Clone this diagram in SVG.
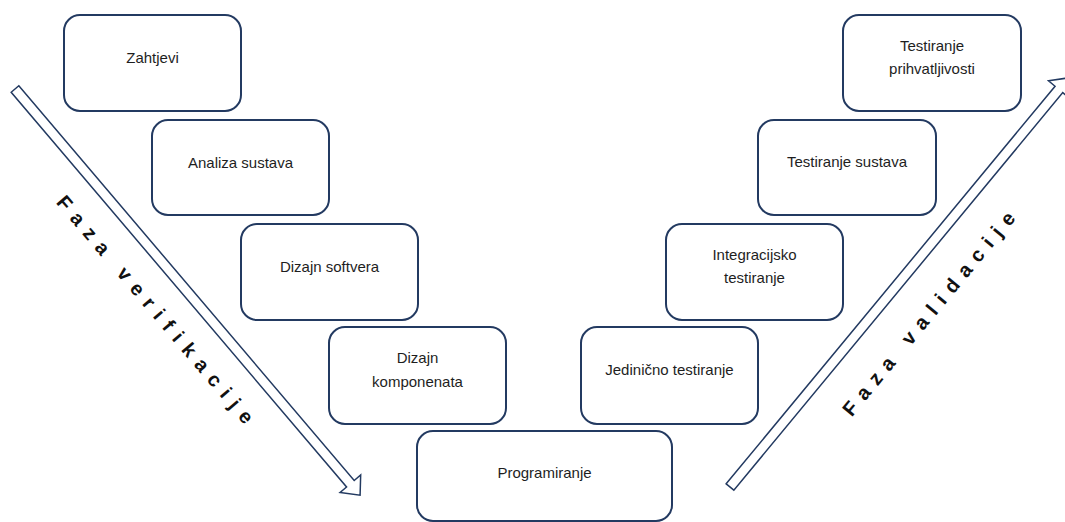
<svg xmlns="http://www.w3.org/2000/svg" width="1065" height="522" viewBox="0 0 1065 522">
<style>
.box{fill:#fff;stroke:#233a61;stroke-width:2}
.lbl{font-family:"Liberation Sans",Arial,sans-serif;font-size:15px;fill:#1e1e1e;text-anchor:middle}
.arr{fill:#fff;stroke:#233a61;stroke-width:1.5;stroke-linejoin:miter}
.phase{font-family:"Liberation Sans",Arial,sans-serif;font-size:20px;font-weight:bold;fill:#111;text-anchor:middle}
</style>
<rect width="1065" height="522" fill="#fff"/>
<g id="connectors">
  <g transform="translate(15,89) rotate(49.65)">
    <polygon class="arr" points="0,-5 518,-5 518,-13.5 533,0 518,13.5 518,5 0,5"/>
  </g>
  <g transform="translate(730,487) rotate(-50.4)">
    <polygon class="arr" points="0,-5 516,-5 516,-13.5 531,0 516,13.5 516,5 0,5"/>
  </g>
</g>
<g id="label-verifikacija">
  <text class="phase" transform="translate(150,314) rotate(49.65)" textLength="292" lengthAdjust="spacing">Faza verifikacije</text>
</g>
<g id="label-validacija">
  <text class="phase" transform="translate(934,318) rotate(-50.4)" textLength="258" lengthAdjust="spacing">Faza validacije</text>
</g>
<g id="n-zahtjevi">
  <rect class="box" x="64" y="15" width="177" height="96" rx="16"/>
  <text class="lbl" x="152.5" y="63">Zahtjevi</text>
</g>
<g id="n-analiza">
  <rect class="box" x="152" y="120" width="177" height="95" rx="16"/>
  <text class="lbl" x="240.5" y="168">Analiza sustava</text>
</g>
<g id="n-dizajn-softvera">
  <rect class="box" x="241" y="224" width="177" height="96" rx="16"/>
  <text class="lbl" x="329.5" y="272">Dizajn softvera</text>
</g>
<g id="n-dizajn-komponenata">
  <rect class="box" x="329" y="327" width="177" height="97" rx="16"/>
  <text class="lbl" x="417.5" y="363">Dizajn</text>
  <text class="lbl" x="417.5" y="387">komponenata</text>
</g>
<g id="n-programiranje">
  <rect class="box" x="417" y="431" width="255" height="90" rx="16"/>
  <text class="lbl" x="544.5" y="478">Programiranje</text>
</g>
<g id="n-jedinicno">
  <rect class="box" x="581" y="327" width="177" height="97" rx="16"/>
  <text class="lbl" x="669.5" y="375">Jedinično testiranje</text>
</g>
<g id="n-integracijsko">
  <rect class="box" x="666" y="224" width="177" height="96" rx="16"/>
  <text class="lbl" x="754.5" y="260">Integracijsko</text>
  <text class="lbl" x="754.5" y="283">testiranje</text>
</g>
<g id="n-sustava">
  <rect class="box" x="758" y="120" width="178" height="95" rx="16"/>
  <text class="lbl" x="847" y="167">Testiranje sustava</text>
</g>
<g id="n-prihvatljivosti">
  <rect class="box" x="843" y="15" width="178" height="96" rx="16"/>
  <text class="lbl" x="932" y="51">Testiranje</text>
  <text class="lbl" x="932" y="74">prihvatljivosti</text>
</g>
</svg>
